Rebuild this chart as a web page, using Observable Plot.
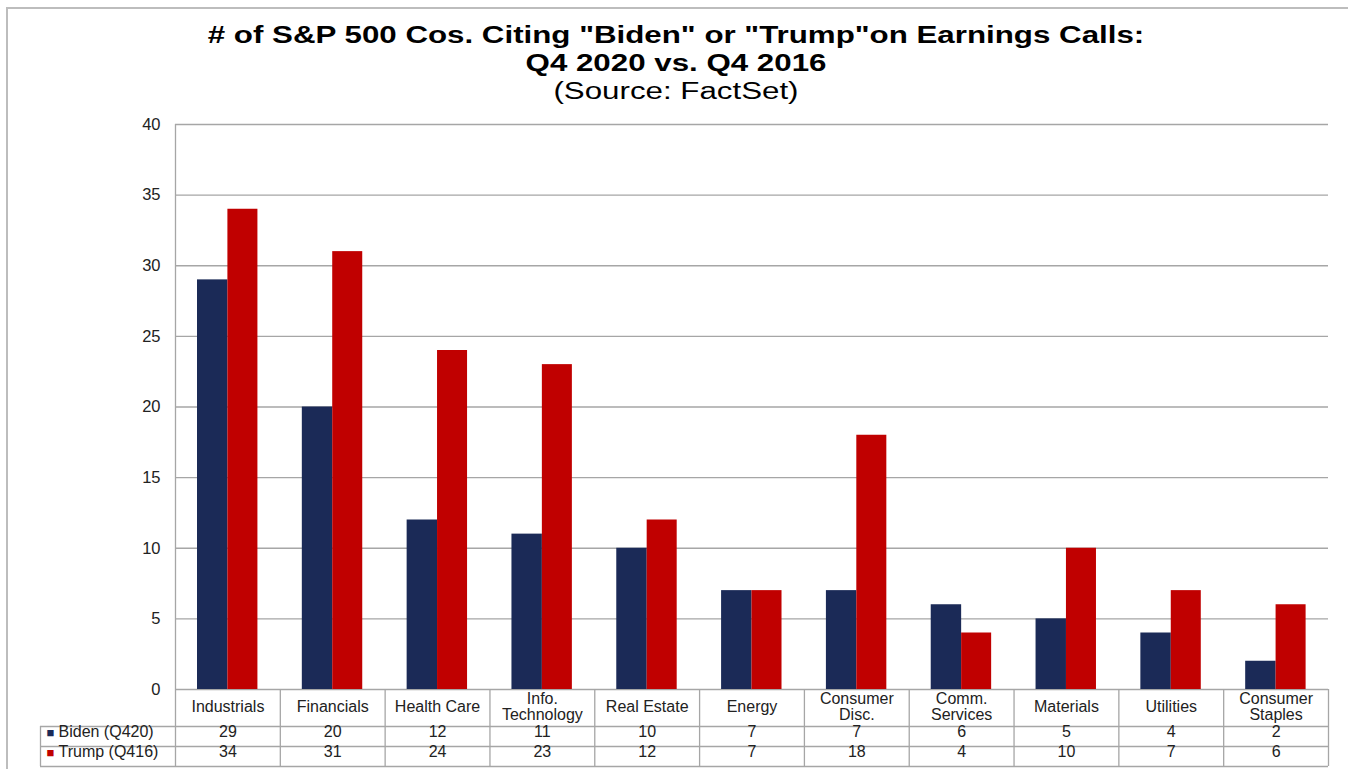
<!DOCTYPE html>
<html><head><meta charset="utf-8">
<script src="https://cdn.jsdelivr.net/npm/d3@7"></script>
<script src="https://cdn.jsdelivr.net/npm/@observablehq/plot@0.6"></script>
<style>
body{margin:0;background:#fff;font-family:"Liberation Sans",Arial,sans-serif;overflow:hidden;}
#frame{position:absolute;left:6px;top:7px;width:1400px;height:800px;border-left:2px solid #bdbdbd;border-top:2px solid #bdbdbd;}
#title{position:absolute;left:0;width:1352px;top:21px;text-align:center;color:#000;transform:scaleX(1.36);transform-origin:676px 0;}
#title .t{font-weight:bold;font-size:23px;line-height:28px;}
#title .s{font-size:23px;line-height:28px;}
#chart{position:absolute;left:0;top:110px;}
</style></head>
<body>
<div id="frame"></div>
<div id="title">
  <div class="t">#&nbsp;of S&amp;P 500 Cos. Citing "Biden" or "Trump"on Earnings Calls:</div>
  <div class="t">Q4 2020 vs. Q4 2016</div>
  <div class="s">(Source: FactSet)</div>
</div>
<div id="chart"></div>
<script>
const categories = ["Industrials","Financials","Health Care","Info.\nTechnology","Real Estate","Energy","Consumer\nDisc.","Comm.\nServices","Materials","Utilities","Consumer\nStaples"];
const biden = [29,20,12,11,10,7,7,6,5,4,2];
const trump = [34,31,24,23,12,7,18,4,10,7,6];
const seriesNames = ["Biden (Q420)","Trump (Q416)"];
const seriesColors = ["#1b2a57","#c00000"];
const yTicks = [0,5,10,15,20,25,30,35,40];

const W = 1348, H = 659, mL = 175, mR = 20, mT = 14, mB = 80;
const plotH = H - mT - mB;
const bw = (W - mL - mR) / categories.length;
const lineColor = "#a6a6a6";
const font = 16;

const chart = Plot.plot({
  width: W, height: H,
  marginLeft: mL, marginRight: mR, marginTop: mT, marginBottom: mB,
  style: {fontFamily: '"Liberation Sans", Arial, sans-serif', color: "#222", overflow: "visible"},
  x: {type: "band", domain: categories, padding: 0, round: false, axis: null},
  y: {domain: [0, 40], axis: null},
  marks: [
    Plot.ruleY(yTicks, {stroke: lineColor, strokeWidth: 1.3}),
    Plot.axisY({ticks: yTicks, tickSize: 0, tickPadding: 15, fontSize: 16.5, label: null, fill: "#222"}),
    Plot.barY(biden, {x: (d, i) => categories[i], y: d => d, fill: seriesColors[0], insetLeft: 22, insetRight: 52.4}),
    Plot.barY(trump, {x: (d, i) => categories[i], y: d => d, fill: seriesColors[1], insetLeft: 52.4, insetRight: 22.4}),
    // table grid
    Plot.ruleX([categories[0]], {x: d => d, dx: -bw / 2, insetBottom: -77, stroke: lineColor, strokeWidth: 1.3}),
    Plot.ruleX(categories.slice(1), {x: d => d, dx: -bw / 2, insetTop: plotH, insetBottom: -77, stroke: lineColor, strokeWidth: 1.3}),
    Plot.ruleX([categories[categories.length - 1]], {x: d => d, dx: bw / 2, insetTop: plotH, insetBottom: -77, stroke: lineColor, strokeWidth: 1.3}),
    Plot.ruleX([categories[0]], {x: d => d, dx: -bw / 2 - 135, insetTop: plotH + 37, insetBottom: -77, stroke: lineColor, strokeWidth: 1.3}),
    Plot.ruleY([0], {dy: 37, insetLeft: -135, stroke: lineColor, strokeWidth: 1.3}),
    Plot.ruleY([0], {dy: 57, insetLeft: -135, stroke: lineColor, strokeWidth: 1.3}),
    Plot.ruleY([0], {dy: 77, insetLeft: -135, stroke: lineColor, strokeWidth: 1.3}),
    // category header
    Plot.text(categories, {x: d => d, text: d => d, frameAnchor: "bottom", dy: 17.5, lineAnchor: "middle", lineHeight: 1.0, fontSize: font, fill: "#222"}),
    // values rows
    Plot.text(biden, {x: (d, i) => categories[i], text: d => String(d), frameAnchor: "bottom", dy: 47.5, fontSize: font, fill: "#222"}),
    Plot.text(trump, {x: (d, i) => categories[i], text: d => String(d), frameAnchor: "bottom", dy: 67.5, fontSize: font, fill: "#222"}),
    // row legends
    Plot.text([seriesColors[0]], {text: () => "■", frameAnchor: "bottom-left", dx: -129, dy: 47, textAnchor: "start", fill: d => d, fontSize: 13}),
    Plot.text([seriesColors[1]], {text: () => "■", frameAnchor: "bottom-left", dx: -129, dy: 67, textAnchor: "start", fill: d => d, fontSize: 13}),
    Plot.text([seriesNames[0]], {text: d => d, frameAnchor: "bottom-left", dx: -117, dy: 47.5, textAnchor: "start", fontSize: font, fill: "#222"}),
    Plot.text([seriesNames[1]], {text: d => d, frameAnchor: "bottom-left", dx: -117, dy: 67.5, textAnchor: "start", fontSize: font, fill: "#222"})
  ]
});
document.getElementById("chart").appendChild(chart);
</script>
</body></html>
